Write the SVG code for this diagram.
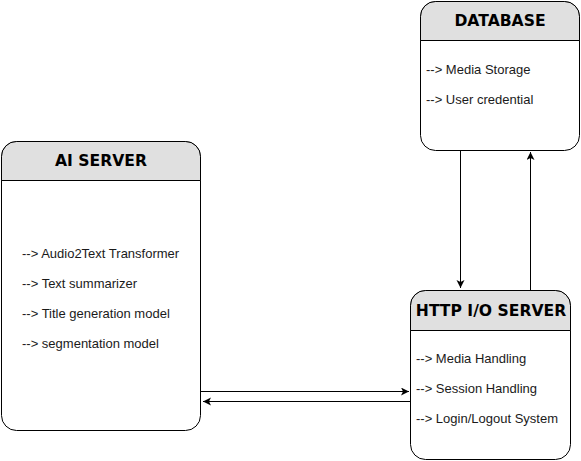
<svg xmlns="http://www.w3.org/2000/svg" width="581" height="461" viewBox="0 0 581 461">
<defs>
<style>
.box{fill:#ffffff;stroke:#000000;stroke-width:1}
.hdr{fill:#e0e0e0;stroke:#000000;stroke-width:1}
.title{font-family:"DejaVu Sans",Verdana,sans-serif;font-weight:bold;font-size:15.6px;fill:#000;text-anchor:middle}
.item{font-family:"Liberation Sans",Arial,sans-serif;font-size:13px;fill:#1a1a1a}
.conn{stroke:#000;stroke-width:1;fill:none}
</style>
<marker id="arr" markerWidth="10" markerHeight="10" refX="8" refY="4" orient="auto" markerUnits="userSpaceOnUse">
<path d="M0,0 L8,4 L0,8 L2,4 Z" fill="#000"/>
</marker>
</defs>
<rect width="581" height="461" fill="#ffffff"/>
<g id="connectors">
<line class="conn" x1="200.5" y1="391.5" x2="409" y2="391.5" marker-end="url(#arr)"/>
<line class="conn" x1="410.5" y1="401.5" x2="203" y2="401.5" marker-end="url(#arr)"/>
<line class="conn" x1="460.5" y1="150.5" x2="460.5" y2="288" marker-end="url(#arr)"/>
<line class="conn" x1="530.5" y1="290.5" x2="530.5" y2="152" marker-end="url(#arr)"/>
</g>
<g id="ai-server">
<rect class="box" x="1.5" y="141.5" width="199" height="289" rx="15" ry="15"/>
<path class="hdr" d="M1.5,180.5 V156.5 A15,15 0 0 1 16.5,141.5 H185.5 A15,15 0 0 1 200.5,156.5 V180.5 Z"/>
<text class="title" x="101" y="166">AI SERVER</text>
<text class="item" x="22" y="258">--&gt; Audio2Text Transformer</text>
<text class="item" x="22" y="288">--&gt; Text summarizer</text>
<text class="item" x="22" y="318">--&gt; Title generation model</text>
<text class="item" x="22" y="348">--&gt; segmentation model</text>
</g>
<g id="database">
<rect class="box" x="420.5" y="1.5" width="159" height="149" rx="15" ry="15"/>
<path class="hdr" d="M420.5,40.5 V16.5 A15,15 0 0 1 435.5,1.5 H564.5 A15,15 0 0 1 579.5,16.5 V40.5 Z"/>
<text class="title" x="500" y="26">DATABASE</text>
<text class="item" x="426" y="74">--&gt; Media Storage</text>
<text class="item" x="426" y="104">--&gt; User credential</text>
</g>
<g id="http-server">
<rect class="box" x="410.5" y="290.5" width="160" height="169" rx="15" ry="15"/>
<path class="hdr" d="M410.5,330.5 V305.5 A15,15 0 0 1 425.5,290.5 H555.5 A15,15 0 0 1 570.5,305.5 V330.5 Z"/>
<text class="title" x="491" y="316">HTTP I/O SERVER</text>
<text class="item" x="416" y="363">--&gt; Media Handling</text>
<text class="item" x="416" y="393">--&gt; Session Handling</text>
<text class="item" x="416" y="423">--&gt; Login/Logout System</text>
</g>
</svg>
